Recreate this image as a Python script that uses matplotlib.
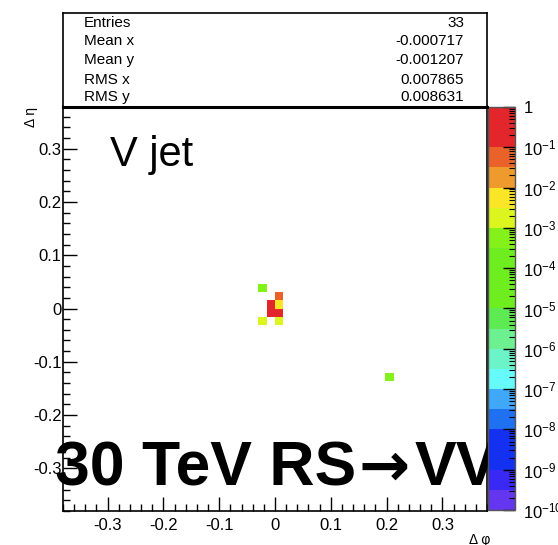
import numpy as np
import matplotlib.pyplot as plt
from matplotlib.colors import ListedColormap, LogNorm
from matplotlib.ticker import LogLocator, MultipleLocator, FuncFormatter, FixedLocator

plt.rcParams['font.family'] = ['Liberation Sans', 'DejaVu Sans']
plt.rcParams['mathtext.default'] = 'regular'
plt.rcParams['axes.unicode_minus'] = False

# filled cells: centre in delta phi / delta eta and bin content
dphi = [-0.0228, 0.0076, -0.0076, 0.0076, -0.0076, 0.0076, -0.0228, 0.0076, 0.2052]
deta = [0.038, 0.0228, 0.0076, 0.0076, -0.0076, -0.0076, -0.0228, -0.0228, -0.1292]
content = [5e-4, 0.05, 0.35, 0.006, 0.3, 0.25, 0.002, 0.002, 5e-4]

n_bins = 50
lo, hi = -0.38, 0.38

stats_names = ['Entries', 'Mean x', 'Mean y', 'RMS x', 'RMS y']
stats_vals = ['33', '-0.000717', '-0.001207', '0.007865', '0.008631']

# ROOT-like palette, 20 contours from 1e-10 (bottom) to 1 (top)
palette = ['#6436f0', '#3a28f4', '#1430f0', '#1430f0', '#2070f2',
           '#40a8f8', '#66fafa', '#6cf4c8', '#6cf090', '#5eea52',
           '#6eee1e', '#6eee1e', '#6eee1e', '#84f21a', '#dcf51e',
           '#fae626', '#ee9a2c', '#e8622a', '#e2262c', '#e2262c']
cmap = ListedColormap(palette)

fig = plt.figure(figsize=(5.58, 5.45), dpi=100)
ax = fig.add_axes([0.1129, 0.0624, 0.7599, 0.743])
cax = fig.add_axes([0.8746, 0.0642, 0.0484, 0.7395])
sb = fig.add_axes([0.1129, 0.8037, 0.7599, 0.1725])

edges = np.linspace(lo, hi, n_bins + 1)
H, _, _ = np.histogram2d(dphi, deta, bins=[edges, edges], weights=content)
H = np.ma.masked_equal(H.T, 0)
mesh = ax.pcolormesh(edges, edges, H, cmap=cmap, norm=LogNorm(1e-10, 1))

ax.set_xlim(lo, hi)
ax.set_ylim(lo, hi)
fmt = FuncFormatter(lambda v, p: '%g' % (round(v, 2) + 0.0))
for axis in (ax.xaxis, ax.yaxis):
    axis.set_major_locator(MultipleLocator(0.1))
    axis.set_minor_locator(MultipleLocator(0.02))
    axis.set_major_formatter(fmt)
ax.tick_params(which='both', direction='in', top=False, right=False, labelsize=12)
ax.tick_params(which='major', length=10, width=1)
ax.tick_params(which='minor', length=5, width=1)
ax.tick_params(axis='y', pad=1)
ax.tick_params(axis='x', pad=5)
for s in ax.spines.values():
    s.set_linewidth(1.2)

ax.text(0.111, 0.852, 'V jet', transform=ax.transAxes, fontsize=30,
        ha='left', va='baseline')
# big label: "30 TeV RS", arrow, "VV" (colorbar covers the last V a bit)
big = dict(transform=ax.transAxes, fontsize=45, fontweight='bold',
           va='baseline', clip_on=False, zorder=5)
ax.text(-0.019, 0.063, '30 TeV RS', ha='left', **big)
ax.text(0.757, 0.063, '\u2192', ha='center', family='DejaVu Sans',
        **{k: v for k, v in big.items() if k != 'fontsize'}, fontsize=44)
ax.text(0.830, 0.063, 'VV', ha='left', **big)

cb = fig.colorbar(mesh, cax=cax)
cb.outline.set_edgecolor('#555555')
cb.outline.set_linewidth(1)
cax.yaxis.set_major_locator(FixedLocator([10.0 ** k for k in range(-10, 1)]))
cax.yaxis.set_minor_locator(LogLocator(base=10, subs=np.arange(2, 10), numticks=100))
cax.yaxis.set_major_formatter(FuncFormatter(
    lambda v, p: '1' if abs(v - 1) < 1e-9 else r'$10^{%d}$' % round(np.log10(v))))
cax.tick_params(which='both', direction='in', right=True, labelsize=12, pad=6)
cax.tick_params(which='major', length=9, width=1)
cax.tick_params(which='minor', length=4.5, width=0.8)

sb.set_xticks([])
sb.set_yticks([])
sb.set_xlim(0, 1)
sb.set_ylim(0, 1)
for s in sb.spines.values():
    s.set_linewidth(1.2)
sb.spines['bottom'].set_linewidth(2.2)
ypos = [0.894, 0.702, 0.5, 0.287, 0.106]
for name, val, y in zip(stats_names, stats_vals, ypos):
    sb.text(0.0495, y, name, fontsize=11, ha='left', va='center')
    sb.text(0.946, y, val, fontsize=11, ha='right', va='center')

fig.text(0.0556, 0.8037, '\u0394 \u03b7', rotation=90, ha='center', va='top', fontsize=10)
fig.text(0.878, 0.022, '\u0394 \u03c6', ha='right', va='top', fontsize=10)

fig.savefig('out.png', dpi=100)
